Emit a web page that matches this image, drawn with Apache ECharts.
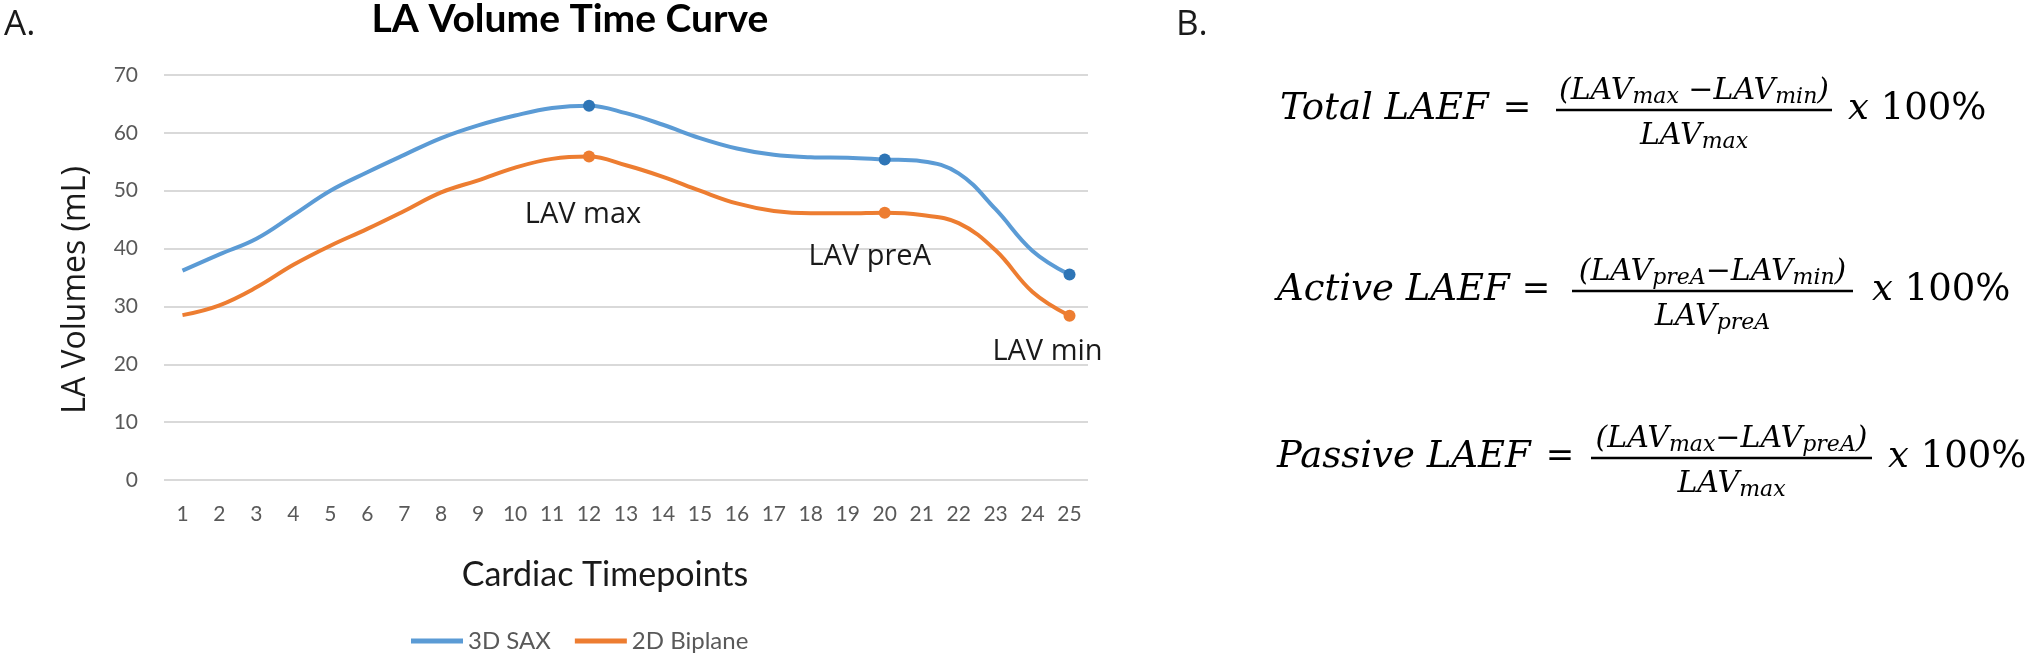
<!DOCTYPE html>
<html lang="en" style="height: 100%">
<head>
  <meta charset="utf-8">
</head>
<body style="height: 100%; margin: 0; background: #fff">
  <div id="container" style="width: 2028px; height: 655px"></div>

  <script src="https://cdn.jsdelivr.net/npm/echarts@6.0.0/dist/echarts.min.js"></script>

  <script type="text/javascript">
    var dom = document.getElementById('container');
    var myChart = echarts.init(dom, null, {
      renderer: 'canvas',
      useDirtyRect: false
    });
    var option;

// cardiac timepoints on the x axis
const timepoints = ['1', '2', '3', '4', '5', '6', '7', '8', '9', '10', '11', '12', '13',
  '14', '15', '16', '17', '18', '19', '20', '21', '22', '23', '24', '25'];
// LA volumes (mL)
const sax3d = [36.2, 39.0, 41.7, 45.8, 50.0, 53.2, 56.2, 59.1, 61.3, 63.0, 64.3, 64.7, 63.4,
  61.4, 59.1, 57.3, 56.2, 55.8, 55.7, 55.4, 55.1, 53.0, 46.8, 39.6, 35.5];
const biplane2d = [28.5, 30.2, 33.3, 37.2, 40.5, 43.4, 46.5, 49.7, 51.8, 54.0, 55.5, 55.9, 54.4,
  52.4, 50.0, 47.8, 46.5, 46.1, 46.1, 46.2, 45.8, 44.4, 39.7, 32.5, 28.4];
// marked timepoints (index) and their labels
const markedIdx = [11, 19, 24];
const markedNames = ['LAV max', 'LAV preA', 'LAV min'];
const seriesNames = ['3D SAX', '2D Biplane'];

const labelOffsets = [[-6, 58], [-15, 44], [-22, 36]];

function buildData(values, markerColor, withLabels) {
  return values.map(function (v, i) {
    let k = markedIdx.indexOf(i);
    if (k < 0) return v;
    let item = {
      value: v,
      symbol: 'circle',
      symbolSize: 12,
      itemStyle: { color: markerColor }
    };
    if (withLabels) {
      item.label = {
        show: true,
        position: 'inside',
        offset: labelOffsets[k],
        formatter: markedNames[k],
        fontFamily: 'Open Sans',
        fontSize: 29,
        color: '#1a1a1a'
      };
    }
    return item;
  });
}

// equation text pieces
const serif = '"DejaVu Serif"';
const eqRich = {
  n: { font: 'italic 30px ' + serif, fill: '#000', lineHeight: 34 },
  s: { font: 'italic 22px ' + serif, fill: '#000', lineHeight: 21, verticalAlign: 'bottom' },
  i: { font: 'italic 37px ' + serif, fill: '#000', lineHeight: 40 },
  r: { font: '37px ' + serif, fill: '#000', lineHeight: 40 }
};

function txt(x, y, text, font, align, extra) {
  let el = {
    type: 'text',
    x: x,
    y: y,
    silent: true,
    style: {
      text: text,
      font: font,
      fill: '#1a1a1a',
      align: align || 'left',
      verticalAlign: 'middle'
    }
  };
  return Object.assign(el, extra || {});
}

function richTxt(x, y, text, align) {
  return {
    type: 'text',
    x: x,
    y: y,
    silent: true,
    style: {
      text: text,
      rich: eqRich,
      align: align,
      verticalAlign: 'middle'
    }
  };
}

function equation(y, left, eqX, barL, barR, name, numer, denom, pctX) {
  let cx = (barL + barR) / 2;
  let left1 = txt(left, y, name, 'italic 37px ' + serif);
  let eq = txt(eqX, y, '=', '34px ' + serif, 'center');
  left1.style.fill = '#000';
  eq.style.fill = '#000';
  return [
    left1,
    eq,
    richTxt(cx, y - 18, numer, 'center'),
    {
      type: 'line',
      silent: true,
      shape: { x1: barL, y1: y + 1, x2: barR, y2: y + 1 },
      style: { stroke: '#000', lineWidth: 2.5 }
    },
    richTxt(cx, y + 27, denom, 'center'),
    richTxt(pctX, y, '{i|x }{r|100%}', 'left')
  ];
}

let graphics = [
  txt(4, 25, 'A.', '35px "Open Sans"'),
  txt(1176, 25, 'B.', '35px "Open Sans"'),
  txt(76, 290, 'LA Volumes (mL)', '32px "Open Sans"', 'center', { rotation: Math.PI / 2 }),
  txt(605, 575, 'Cardiac Timepoints', '34px Lato', 'center')
];

graphics = graphics
  .concat(equation(109, 1280, 1517, 1556, 1832, 'Total LAEF',
    '{n|(LAV}{s|max}{n| \u2212LAV}{s|min}{n|)}', '{n|LAV}{s|max}', 1848))
  .concat(equation(290, 1277, 1536, 1572, 1853, 'Active LAEF',
    '{n|(LAV}{s|preA}{n|\u2212LAV}{s|min}{n|)}', '{n|LAV}{s|preA}', 1872))
  .concat(equation(457, 1277, 1560, 1591, 1872, 'Passive LAEF',
    '{n|(LAV}{s|max}{n|\u2212LAV}{s|preA}{n|)}', '{n|LAV}{s|max}', 1888));

option = {
  animation: false,
  backgroundColor: '#fff',
  title: {
    text: 'LA Volume Time Curve',
    left: 570,
    top: 0,
    padding: 0,
    textAlign: 'center',
    textStyle: {
      fontFamily: 'Lato',
      fontWeight: 'bold',
      fontSize: 39,
      color: '#000'
    }
  },
  legend: {
    data: seriesNames,
    left: 411,
    top: 629,
    padding: 0,
    icon: 'rect',
    itemWidth: 52,
    itemHeight: 5,
    itemGap: 24,
    textStyle: {
      fontFamily: 'Lato',
      fontSize: 24,
      color: '#595959'
    }
  },
  grid: {
    left: 164,
    right: 940,
    top: 75,
    bottom: 175
  },
  xAxis: {
    type: 'category',
    data: timepoints,
    boundaryGap: true,
    axisLine: { show: false },
    axisTick: { show: false },
    axisLabel: {
      margin: 24,
      fontFamily: 'Lato',
      fontSize: 21,
      color: '#595959',
      interval: 0
    }
  },
  yAxis: {
    type: 'value',
    min: 0,
    max: 70,
    interval: 10,
    axisLine: { show: false },
    axisTick: { show: false },
    axisLabel: {
      margin: 26,
      fontFamily: 'Lato',
      fontSize: 21,
      color: '#595959'
    },
    splitLine: {
      lineStyle: { color: '#d9d9d9', width: 2 }
    }
  },
  graphic: graphics,
  series: [
    {
      name: seriesNames[0],
      type: 'line',
      smooth: 0.4,
      symbol: 'none',
      color: '#5b9bd5',
      lineStyle: { width: 4, color: '#5b9bd5' },
      data: buildData(sax3d, '#2e75b6', false)
    },
    {
      name: seriesNames[1],
      type: 'line',
      smooth: 0.4,
      symbol: 'none',
      color: '#ed7d31',
      lineStyle: { width: 4, color: '#ed7d31' },
      data: buildData(biplane2d, '#ed7d31', true)
    }
  ]
};

    if (option && typeof option === 'object') {
      myChart.setOption(option);
    }

    window.addEventListener('resize', myChart.resize);
  </script>
</body>
</html>
